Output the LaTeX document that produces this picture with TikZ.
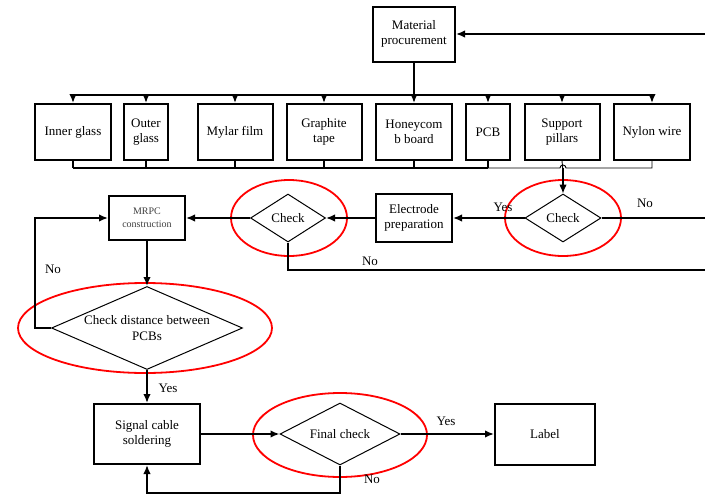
\documentclass[tikz,border=0pt]{standalone}
\usepackage{fontspec}
\setmainfont{Liberation Serif}
\usetikzlibrary{shapes.geometric,arrows.meta}
\begin{document}
\begin{tikzpicture}[x=1pt,y=-1pt,
  box/.style={draw, line width=2pt, align=center, inner sep=1pt, font=\fontsize{13}{15}\selectfont},
  smallbox/.style={draw, line width=2pt, align=center, inner sep=1pt, font=\fontsize{10}{13}\selectfont, text=black!75},
  dia/.style={draw, diamond, line width=1pt, inner sep=0pt},
  dtext/.style={font=\fontsize{13}{16}\selectfont, align=center},
  ln/.style={line width=1.6pt},
  thinln/.style={line width=0.9pt},
  arr/.style={line width=1.6pt, -{Latex[length=9pt,width=7.5pt]}},
  lab/.style={font=\fontsize{13}{15}\selectfont, inner sep=0pt},
  ring/.style={draw=red, line width=1.8pt}]
\useasboundingbox (0,0) rectangle (705,498);
% top box
\node[box, minimum width=82pt, minimum height=55pt] (mp) at (414,34) {Material\\procurement};
% material row
\node[box, minimum width=76pt, minimum height=56pt] (ig) at (73,132) {Inner glass};
\node[box, minimum width=44pt, minimum height=56pt] (og) at (146,132) {Outer\\glass};
\node[box, minimum width=75pt, minimum height=56pt] (mf) at (235,132) {Mylar film};
\node[box, minimum width=75pt, minimum height=56pt] (gt) at (324,132) {Graphite\\tape};
\node[box, minimum width=76pt, minimum height=56pt] (hb) at (414,132) {Honeycom\\b board};
\node[box, minimum width=44pt, minimum height=56pt] (pcb) at (488,132) {PCB};
\node[box, minimum width=75pt, minimum height=56pt] (sp) at (562,132) {Support\\pillars};
\node[box, minimum width=76pt, minimum height=56pt] (nw) at (652,132) {Nylon wire};
% second row
\node[dia, minimum width=76pt, minimum height=48pt, label={[dtext]center:Check}] (c2) at (563,218) {};
\node[box, minimum width=76pt, minimum height=48pt] (ep) at (414,218) {Electrode\\preparation};
\node[dia, minimum width=75pt, minimum height=48pt, label={[dtext]center:Check}] (c1) at (288,218) {};
\node[smallbox, minimum width=76pt, minimum height=44pt] (mr) at (147,218) {MRPC\\construction};
% big diamond
\node[dia, minimum width=191pt, minimum height=83pt, label={[dtext]center:Check distance between\\PCBs}] (cd) at (147,328) {};
% bottom row
\node[box, minimum width=106pt, minimum height=60pt] (sc) at (147,434) {Signal cable\\soldering};
\node[dia, minimum width=120pt, minimum height=62pt, label={[dtext]center:Final check}] (fc) at (340,434) {};
\node[box, minimum width=100pt, minimum height=61pt] (lb) at (545,434) {Label};
% rings
\draw[ring] (563,218) ellipse [x radius=58pt, y radius=38pt];
\draw[ring] (289,218) ellipse [x radius=58pt, y radius=38pt];
\draw[ring] (145,328) ellipse [x radius=127pt, y radius=45pt];
\draw[ring] (340,435) ellipse [x radius=87pt, y radius=42pt];
% coordinates
\coordinate (tb) at (0,95);
\coordinate (bb) at (0,168);
\coordinate (R1) at (705,34);
\coordinate (R2) at (705,218);
\coordinate (R3) at (705,270);
\coordinate (L) at (35,0);
\coordinate (B) at (0,493);
% top bus
\draw[arr] (R1) -- (mp.east);
\draw[ln] (mp.south) -- (mp.south |- tb);
\draw[ln] (ig.north |- tb) -- (nw.north |- tb);
\foreach \n in {ig,og,mf,gt,hb,pcb,sp,nw} \draw[arr] (\n.north |- tb) -- (\n.north);
% bottom bus
\foreach \n in {ig,og,mf,gt,hb,pcb} \draw[ln] (\n.south) -- (\n.south |- bb);
\draw[ln] (ig.south |- bb) -- (pcb.south |- bb);
\draw[thinln] (pcb.south |- bb) -- ([xshift=-3pt]c2.north |- bb) arc[start angle=180, end angle=0, radius=3pt] -- (nw.south |- bb) -- (nw.south);
\draw[thinln] (sp.south) -- ([yshift=-3pt]c2.north |- bb);
\draw[arr, line width=1.2pt] (c2.north |- bb) -- (c2.north);
% second row
\draw[ln] (c2.east) -- (R2);
\draw[arr] (c2.west) -- (ep.east);
\draw[arr] (ep.west) -- (c1.east);
\draw[arr] (c1.west) -- (mr.east);
\draw[ln] (c1.south) |- (R3);
\draw[arr] (mr.south) -- (cd.north);
\draw[arr] (cd.west) -- (cd.west -| L) |- (mr.west);
\draw[arr] (cd.south) -- (sc.north);
\draw[arr] (sc.east) -- (fc.west);
\draw[arr] (fc.east) -- (lb.west);
\draw[arr] (fc.south) -- (fc.south |- B) -| (sc.south);
% labels
\node[lab] (y1) at (503,207) {Yes};
\node[lab] (n1) at (645,203) {No};
\node[lab] (n2) at (370,261) {No};
\node[lab] (n3) at (53,269) {No};
\node[lab] (y2) at (168,388) {Yes};
\node[lab] (y3) at (446,421) {Yes};
\node[lab] (n4) at (372,479) {No};
\end{tikzpicture}
\end{document}
